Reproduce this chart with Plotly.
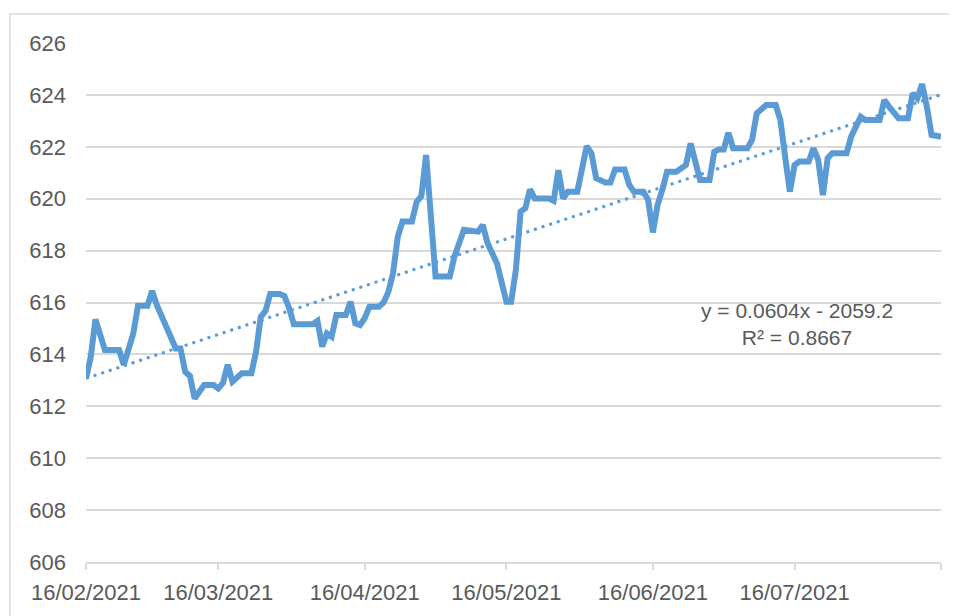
import datetime as dt
import numpy as np
import plotly.graph_objects as go

START = dt.date(2021, 2, 16)

day_offsets = [0, 1, 2, 3, 4, 7, 8, 10, 11, 13, 14, 15, 17, 19, 20, 21, 22, 23, 25, 27,
               28, 29, 30, 31, 33, 35, 36, 37, 38, 39, 41, 42, 43, 44, 48, 49, 50, 51, 52, 53,
               55, 56, 57, 58, 59, 60, 62, 63, 64, 65, 66, 67, 69, 70, 71, 72, 74, 77, 78, 80,
               83, 84, 85, 87, 89, 90, 91, 92, 93, 94, 95, 98, 99, 100, 101, 102, 104, 105, 106, 107,
               108, 110, 111, 112, 114, 115, 116, 118, 119, 120, 121, 122, 123, 125, 127, 128, 129, 130, 132, 133,
               134, 135, 136, 137, 140, 141, 142, 144, 146, 147, 148, 149, 150, 151, 153, 154, 155, 156, 157, 158,
               161, 162, 164, 165, 168, 169, 170, 172, 174, 175, 176, 177, 178, 179, 181]
values = [613.08, 613.9, 615.35, 614.68, 614.17, 614.17, 613.6, 614.8, 615.87, 615.87, 616.45, 615.9, 615.13, 614.23, 614.23, 613.33, 613.17, 612.3, 612.82, 612.82,
          612.69, 612.9, 613.6, 612.95, 613.27, 613.27, 614.1, 615.45, 615.68, 616.33, 616.33, 616.25, 615.78, 615.16, 615.16, 615.29, 614.3, 614.81, 614.68, 615.52,
          615.52, 616.03, 615.2, 615.13, 615.39, 615.84, 615.84, 616.0, 616.4, 617.13, 618.54, 619.12, 619.12, 619.88, 620.1, 621.68, 617.0, 617.0, 617.77, 618.8,
          618.73, 618.99, 618.28, 617.51, 616.03, 616.03, 617.25, 619.5, 619.63, 620.36, 620.01, 620.01, 619.92, 621.1, 620.01, 620.27, 620.27, 621.3, 622.03, 621.75,
          620.79, 620.62, 620.62, 621.13, 621.13, 620.53, 620.27, 620.27, 619.95, 618.7, 619.76, 620.34, 621.04, 621.04, 621.3, 622.13, 621.43, 620.72, 620.72, 621.81,
          621.9, 621.9, 622.54, 621.94, 621.94, 622.26, 623.29, 623.61, 623.61, 623.03, 621.62, 620.27, 621.3, 621.43, 621.43, 621.94, 621.5, 620.14, 621.56, 621.75,
          621.75, 622.4, 623.16, 623.03, 623.03, 623.8, 623.55, 623.1, 623.1, 624.06, 623.87, 624.42, 623.55, 622.46, 622.39]

trend_slope = 0.0604
trend_intercept = -2059.2
equation_text = "y = 0.0604x - 2059.2<br>R² = 0.8667"

tick_dates = ["2021-02-16", "2021-03-16", "2021-04-16", "2021-05-16", "2021-06-16", "2021-07-16", "2021-08-16"]
tick_labels = ["16/02/2021", "16/03/2021", "16/04/2021", "16/05/2021", "16/06/2021", "16/07/2021", ""]
y_ticks = [606, 608, 610, 612, 614, 616, 618, 620, 622, 624, 626]

dates = [START + dt.timedelta(days=d) for d in day_offsets]
EXCEL_EPOCH = dt.date(1899, 12, 30)
trend_x = [dates[0], dates[-1]]
trend_y = [trend_slope * (d - EXCEL_EPOCH).days + trend_intercept for d in trend_x]

BLUE = "#5B9BD5"
GRID = "#D9D9D9"
TXT = "#595959"
FONT = "Liberation Sans"

# page body has an 8px margin, so the figure is drawn 8px right/down
L, R, T, B = 78, 16, 35, 54
W, H = 949, 608
PW, PH = W - L - R, H - T - B  # 855 x 519
OX, OY = 8 + L, 8 + T          # plot origin on the page (86, 43)

fig = go.Figure()
fig.add_trace(go.Scatter(x=dates, y=values, mode="lines",
                         line=dict(color=BLUE, width=6), showlegend=False, hoverinfo="skip"))
fig.add_trace(go.Scatter(x=trend_x, y=trend_y, mode="lines",
                         line=dict(color=BLUE, width=3, dash="3px,5px"), showlegend=False, hoverinfo="skip"))

fig.update_layout(
    width=W, height=H,
    margin=dict(l=L, r=R, t=T, b=B),
    paper_bgcolor="white", plot_bgcolor="white",
    font=dict(family=FONT, size=22, color=TXT),
    xaxis=dict(range=["2021-02-16", "2021-08-16"], tickmode="array", tickvals=tick_dates, ticktext=tick_labels,
               showgrid=False, showline=True, linecolor=GRID, linewidth=1.5,
               ticks="outside", ticklen=6, tickcolor=GRID, tickwidth=1.5,
               ticklabelstandoff=4, zeroline=False, fixedrange=True),
    yaxis=dict(range=[606, 626], tickmode="array", tickvals=y_ticks,
               showgrid=True, gridcolor=GRID, gridwidth=1.5, showline=False,
               ticks="", ticklabelstandoff=19, zeroline=False),
    shapes=[dict(type="rect", xref="paper", yref="paper",
                 x0=(10 - OX) / PW, x1=(990 - OX) / PW,
                 y0=(OY + PH - 660) / PH, y1=(OY + PH - 14) / PH,
                 line=dict(color=GRID, width=1.5), fillcolor="rgba(0,0,0,0)", layer="below")],
    annotations=[dict(text=equation_text, xref="paper", yref="paper",
                      x=(797 - OX) / PW, y=(OY + PH - 324) / PH, xanchor="center", yanchor="middle",
                      showarrow=False, align="center", font=dict(family=FONT, size=21, color=TXT))],
)

fig.write_html("out.html")
